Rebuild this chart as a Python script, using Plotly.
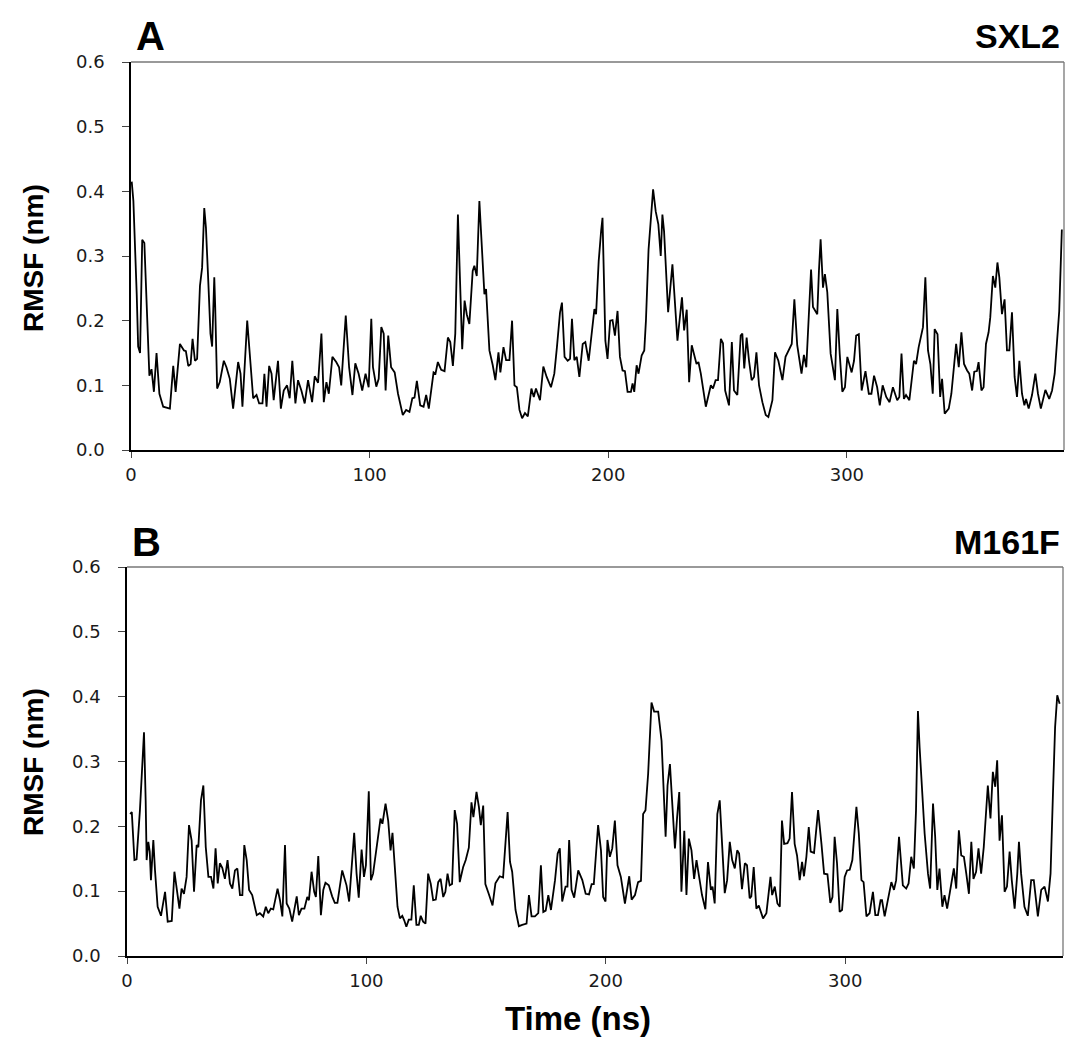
import plotly.graph_objects as go

# ---------------- data ----------------
time_a = [0.3, 1, 2.4, 3, 3.8, 4.7, 5.6, 6.5, 7.7, 8.6, 9.6, 10.7, 11.9, 13.5, 16.3, 17.7, 18.7, 20.5, 22.2, 23,
          24, 25, 25.8, 26.8, 27.7, 28.9, 29.8, 30.7, 31.4, 32.4, 33.3, 34, 34.9, 35.3, 36.1, 37.2, 38.9, 40, 41.4, 42.8,
          44.9, 45.9, 46.7, 48.7, 49.8, 51.2, 52.6, 53.7, 55.1, 55.9, 56.8, 57.9, 58.9, 59.8, 61.6, 62.8, 64, 65.4, 66.5, 67.6,
          68.9, 70, 71.4, 72.8, 74.2, 75.9, 77, 78.4, 79.8, 80.8, 81.9, 82.9, 84.4, 86, 87.2, 88.1, 90, 91.4, 92.8, 94,
          95.4, 96.9, 98.3, 99.6, 100.7, 101.4, 102.8, 103.8, 104.9, 105.9, 106.7, 107.8, 109, 110.5, 111.9, 113.9, 115.3, 116.7, 117.9, 118.8,
          119.8, 121.2, 122.6, 123.7, 124.8, 126.8, 127.6, 128.6, 130, 131.4, 132.8, 133.8, 134.9, 135.9, 137, 138, 138.8, 139.8, 140.7, 141.8,
          143.2, 143.9, 144.9, 146, 147.1, 148.1, 148.8, 150.2, 151.6, 152.7, 154, 154.8, 156.1, 157.2, 158.6, 159.7, 160.7, 161.7, 162.8, 163.9,
          165.1, 166.3, 167.8, 168.8, 169.7, 171.4, 172.8, 174.2, 176, 177.4, 178.5, 179.8, 180.6, 181.7, 183, 184, 184.8, 185.8, 186.8, 187.9,
          189.3, 190.4, 191.8, 193.5, 194.2, 194.9, 196, 197, 197.6, 198.8, 199.7, 200.8, 201.8, 202.8, 203.9, 204.9, 206, 207, 208.1, 209.5,
          210.2, 210.9, 211.9, 212.7, 214, 215.1, 215.8, 216.9, 217.9, 218.8, 219.9, 221, 222, 222.7, 223.4, 224.1, 225.1, 226.9, 228, 229,
          230.9, 231.8, 232.9, 233.9, 235, 237, 237.8, 238.8, 240.9, 243, 243.9, 245, 246, 247.2, 248.1, 249, 250.6, 251.8, 252.7, 254.1,
          255.5, 256.2, 257, 258, 259, 260.1, 261.1, 262.1, 263.2, 264.6, 266, 267.1, 268.8, 269.9, 271.3, 273, 274.3, 275.5, 276.9, 278,
          279.2, 281, 282, 283, 284.1, 285, 285.8, 287.6, 288.3, 289, 290, 290.8, 291.8, 293.2, 295, 296, 297, 298.1, 299.2, 300.2,
          302, 303, 303.9, 305, 306.2, 307.8, 309.2, 310.3, 311.4, 312.7, 313.8, 315, 316.5, 317.9, 319.3, 321.1, 322, 322.9, 323.9, 324.8,
          326.2, 328.1, 329, 330.1, 331.9, 332.9, 334, 335, 336, 336.8, 338, 339.1, 339.9, 341, 342.7, 343.8, 345.8, 346.9, 348, 349.1,
          350.4, 351.3, 352.5, 353.4, 354.5, 355.2, 356.4, 357.3, 358.3, 359.4, 360.1, 361.2, 362.2, 363.1, 363.9, 365, 366.1, 367.1, 368.1, 369.2,
          370.3, 371.3, 372.3, 373.4, 374.4, 375.1, 376.2, 377.6, 379, 380.1, 381.3, 383.2, 384.8, 386, 387.1, 388.3, 389, 390.1]
rmsf_a = [0.415, 0.385, 0.24, 0.16, 0.15, 0.325, 0.32, 0.235, 0.115, 0.125, 0.09, 0.15, 0.087, 0.067, 0.064, 0.13, 0.09, 0.164, 0.154, 0.153,
          0.13, 0.133, 0.172, 0.138, 0.141, 0.254, 0.282, 0.374, 0.344, 0.26, 0.18, 0.16, 0.267, 0.22, 0.095, 0.105, 0.138, 0.128, 0.11, 0.064,
          0.136, 0.118, 0.067, 0.2, 0.144, 0.08, 0.085, 0.072, 0.072, 0.118, 0.067, 0.13, 0.118, 0.077, 0.138, 0.064, 0.092, 0.1, 0.08, 0.138,
          0.072, 0.108, 0.092, 0.072, 0.108, 0.074, 0.114, 0.104, 0.18, 0.074, 0.105, 0.087, 0.144, 0.136, 0.128, 0.1, 0.208, 0.128, 0.085, 0.134,
          0.118, 0.092, 0.118, 0.097, 0.203, 0.128, 0.098, 0.11, 0.19, 0.18, 0.092, 0.177, 0.128, 0.12, 0.087, 0.054, 0.062, 0.059, 0.08, 0.081,
          0.107, 0.069, 0.067, 0.085, 0.064, 0.12, 0.118, 0.136, 0.124, 0.122, 0.174, 0.167, 0.13, 0.18, 0.364, 0.241, 0.156, 0.231, 0.21, 0.195,
          0.277, 0.285, 0.269, 0.385, 0.303, 0.241, 0.249, 0.154, 0.131, 0.108, 0.151, 0.12, 0.159, 0.139, 0.139, 0.2, 0.1, 0.097, 0.062, 0.049,
          0.057, 0.052, 0.095, 0.082, 0.095, 0.077, 0.129, 0.113, 0.097, 0.118, 0.159, 0.213, 0.228, 0.144, 0.138, 0.141, 0.203, 0.139, 0.144, 0.113,
          0.164, 0.167, 0.138, 0.19, 0.218, 0.21, 0.292, 0.338, 0.359, 0.169, 0.141, 0.2, 0.201, 0.177, 0.215, 0.144, 0.123, 0.122, 0.09, 0.09,
          0.103, 0.09, 0.131, 0.118, 0.146, 0.154, 0.2, 0.31, 0.362, 0.403, 0.369, 0.349, 0.3, 0.364, 0.338, 0.292, 0.213, 0.287, 0.231, 0.169,
          0.236, 0.185, 0.217, 0.105, 0.162, 0.133, 0.136, 0.118, 0.067, 0.1, 0.095, 0.108, 0.108, 0.172, 0.165, 0.092, 0.069, 0.167, 0.092, 0.085,
          0.177, 0.18, 0.126, 0.174, 0.138, 0.108, 0.113, 0.151, 0.1, 0.074, 0.054, 0.051, 0.077, 0.151, 0.138, 0.108, 0.144, 0.154, 0.164, 0.233,
          0.162, 0.118, 0.147, 0.128, 0.215, 0.279, 0.221, 0.21, 0.277, 0.326, 0.251, 0.272, 0.244, 0.149, 0.108, 0.218, 0.149, 0.09, 0.097, 0.144,
          0.12, 0.138, 0.177, 0.179, 0.092, 0.122, 0.087, 0.087, 0.115, 0.097, 0.069, 0.1, 0.082, 0.074, 0.097, 0.077, 0.082, 0.149, 0.079, 0.085,
          0.077, 0.138, 0.133, 0.159, 0.19, 0.267, 0.154, 0.133, 0.087, 0.187, 0.179, 0.082, 0.11, 0.056, 0.064, 0.087, 0.164, 0.128, 0.182, 0.133,
          0.123, 0.118, 0.092, 0.121, 0.122, 0.136, 0.092, 0.097, 0.164, 0.182, 0.205, 0.269, 0.251, 0.29, 0.267, 0.21, 0.233, 0.154, 0.154, 0.213,
          0.113, 0.082, 0.138, 0.087, 0.069, 0.079, 0.064, 0.085, 0.118, 0.087, 0.064, 0.093, 0.079, 0.092, 0.118, 0.187, 0.215, 0.341]

time_b = [1.3, 2, 3.1, 4, 5.4, 6.4, 7.1, 7.8, 8.2, 8.9, 9.5, 10, 11, 11.7, 12.8, 14.2, 15.9, 17, 18.7, 19.8,
          20.7, 21.9, 22.8, 23.8, 24.9, 25.9, 27, 28, 29.1, 29.8, 30.9, 31.9, 32.9, 34, 35.1, 36.1, 37, 37.9, 38.8, 39.8,
          40.9, 42, 43, 44, 45.1, 46.1, 47.2, 48.2, 49, 50, 51, 52.3, 54.2, 55.5, 56.9, 58, 59, 60.1, 61.1, 62.9,
          63.9, 64.9, 66, 66.7, 67.8, 69, 70.9, 71.8, 72.9, 74.1, 75.3, 76, 77.1, 78.2, 78.9, 79.9, 81, 82, 82.9, 84.3,
          85.7, 86.8, 87.9, 89.9, 91.7, 92.8, 94.9, 95.9, 96.8, 98, 99, 99.8, 101, 101.9, 102.8, 104.2, 105.9, 106.7, 108, 109.1,
          110.1, 110.9, 111.9, 113, 114, 115, 115.8, 116.7, 117.7, 118.8, 119.8, 120.9, 121.9, 122.7, 123.7, 124.7, 125.8, 126.9, 127.9, 129,
          130, 131, 132.1, 133, 133.9, 134.8, 135.8, 136.9, 137.9, 139, 140.4, 141.5, 142.8, 143.9, 144.7, 146, 147, 147.8, 148.8, 149.7,
          151.1, 152.7, 153.9, 155.7, 157.1, 159, 160, 160.9, 162.3, 163.7, 165.1, 166.9, 167.9, 169, 170.4, 171.8, 172.9, 173.9, 174.9, 176,
          177.1, 178.8, 179.9, 180.8, 181.8, 183.2, 184, 184.7, 185.7, 186.8, 188.5, 190.2, 191.6, 193, 194.1, 195, 196.8, 198, 198.9, 199.9,
          200.7, 201.7, 202.7, 203.8, 204.9, 206.3, 208, 209.8, 210.8, 212.2, 213.5, 214.7, 215.6, 216.6, 217.7, 218.4, 219.1, 220.2, 221.9, 223.3,
          224, 225, 225.8, 226.8, 227.7, 228.9, 229.8, 230.7, 231.6, 232.8, 233.7, 234.7, 235.8, 236.9, 237.9, 238.8, 240.2, 241.6, 242.7, 243.9,
          244.6, 245.5, 246.6, 247.6, 248.6, 249.7, 250.7, 251.8, 252.8, 253.9, 254.9, 255.7, 256.9, 258.1, 259, 260.1, 260.8, 261.8, 262.9, 263.9,
          265.7, 267.1, 268.8, 269.5, 270.6, 271.7, 272.7, 273.6, 274.5, 275.9, 276.8, 277.8, 278.9, 279.9, 281, 282, 282.8, 283.8, 284.8, 285.6,
          287, 288.7, 290.1, 291.2, 292.6, 293.8, 294.7, 295.6, 296.6, 297.7, 298.7, 299.8, 300.8, 301.9, 303, 304.7, 305.7, 306.8, 307.7, 308.9,
          310.2, 311.6, 312.6, 313.7, 314.8, 315.4, 316.5, 317.9, 319.3, 320.4, 321.3, 322.5, 323.2, 324.1, 325.5, 326.5, 327.6, 328.7, 329.6, 330.4,
          331.1, 332.1, 333.2, 334.6, 335.5, 336.7, 337.6, 338.5, 339.4, 340.6, 341.5, 342.6, 344, 345.4, 346.4, 347.5, 348.5, 349.6, 350.6, 351.7,
          352.7, 353.6, 354.7, 355.7, 356.8, 357.9, 359.6, 360.7, 361.7, 362.7, 363.5, 364.5, 365.5, 366.6, 367.6, 368.7, 369.6, 370.8, 371.9, 372.6,
          373.5, 374.9, 376.3, 377.7, 378.8, 380.5, 381.9, 383.3, 384.7, 385.8, 386.8, 387.7, 388.6, 389.6]
rmsf_b = [0.219, 0.222, 0.148, 0.149, 0.225, 0.302, 0.345, 0.24, 0.148, 0.176, 0.161, 0.117, 0.179, 0.132, 0.076, 0.062, 0.099, 0.053, 0.054, 0.13,
          0.107, 0.073, 0.104, 0.096, 0.122, 0.202, 0.178, 0.099, 0.171, 0.168, 0.24, 0.263, 0.168, 0.122, 0.122, 0.104, 0.166, 0.112, 0.143, 0.136,
          0.119, 0.148, 0.112, 0.104, 0.132, 0.135, 0.094, 0.094, 0.171, 0.148, 0.102, 0.094, 0.063, 0.066, 0.061, 0.076, 0.066, 0.073, 0.072, 0.104,
          0.086, 0.061, 0.171, 0.081, 0.073, 0.053, 0.092, 0.063, 0.073, 0.073, 0.091, 0.086, 0.13, 0.099, 0.091, 0.154, 0.063, 0.102, 0.113, 0.109,
          0.092, 0.082, 0.082, 0.132, 0.109, 0.084, 0.19, 0.127, 0.09, 0.164, 0.122, 0.14, 0.254, 0.117, 0.127, 0.163, 0.212, 0.204, 0.235, 0.209,
          0.163, 0.19, 0.127, 0.076, 0.058, 0.062, 0.055, 0.045, 0.056, 0.056, 0.109, 0.048, 0.048, 0.062, 0.053, 0.05, 0.127, 0.111, 0.086, 0.087,
          0.114, 0.119, 0.091, 0.099, 0.127, 0.109, 0.111, 0.225, 0.204, 0.114, 0.137, 0.148, 0.167, 0.237, 0.214, 0.253, 0.23, 0.202, 0.232, 0.111,
          0.096, 0.078, 0.112, 0.123, 0.121, 0.222, 0.145, 0.13, 0.071, 0.046, 0.048, 0.05, 0.094, 0.061, 0.061, 0.066, 0.14, 0.068, 0.07, 0.094,
          0.071, 0.117, 0.158, 0.166, 0.084, 0.107, 0.107, 0.179, 0.102, 0.09, 0.132, 0.117, 0.096, 0.095, 0.111, 0.111, 0.202, 0.163, 0.091, 0.084,
          0.179, 0.153, 0.166, 0.209, 0.14, 0.122, 0.081, 0.123, 0.087, 0.094, 0.114, 0.116, 0.219, 0.225, 0.281, 0.348, 0.391, 0.377, 0.377, 0.332,
          0.271, 0.184, 0.263, 0.296, 0.24, 0.166, 0.214, 0.253, 0.099, 0.193, 0.094, 0.181, 0.163, 0.119, 0.148, 0.127, 0.094, 0.072, 0.145, 0.102,
          0.107, 0.081, 0.219, 0.24, 0.168, 0.097, 0.117, 0.176, 0.148, 0.135, 0.163, 0.158, 0.103, 0.143, 0.14, 0.089, 0.092, 0.137, 0.073, 0.078,
          0.058, 0.066, 0.122, 0.094, 0.107, 0.081, 0.076, 0.209, 0.173, 0.174, 0.181, 0.253, 0.173, 0.155, 0.117, 0.145, 0.123, 0.153, 0.199, 0.161,
          0.159, 0.225, 0.173, 0.127, 0.126, 0.082, 0.091, 0.184, 0.143, 0.068, 0.071, 0.122, 0.132, 0.133, 0.148, 0.23, 0.189, 0.117, 0.114, 0.061,
          0.066, 0.099, 0.063, 0.063, 0.086, 0.086, 0.061, 0.086, 0.114, 0.102, 0.117, 0.184, 0.153, 0.109, 0.104, 0.112, 0.153, 0.135, 0.225, 0.378,
          0.322, 0.25, 0.189, 0.127, 0.104, 0.235, 0.184, 0.102, 0.135, 0.076, 0.094, 0.073, 0.107, 0.135, 0.104, 0.194, 0.155, 0.153, 0.127, 0.096,
          0.176, 0.119, 0.13, 0.166, 0.127, 0.168, 0.263, 0.212, 0.284, 0.261, 0.302, 0.178, 0.217, 0.099, 0.107, 0.161, 0.117, 0.073, 0.127, 0.176,
          0.127, 0.076, 0.062, 0.117, 0.117, 0.061, 0.102, 0.107, 0.084, 0.127, 0.25, 0.353, 0.402, 0.389]

x_ticks = [0, 100, 200, 300]
y_ticks = [0.0, 0.1, 0.2, 0.3, 0.4, 0.5, 0.6]
panel_letters = ["A", "B"]
panel_names = ["SXL2", "M161F"]
x_title = "Time (ns)"
y_title = "RMSF (nm)"

# ---------------- figure ----------------
W, H = 1066, 1041
ML, MR, MT, MB = 127, 2, 62, 85
PW, PH = W - ML - MR, H - MT - MB


def px(x):
    return (x - ML) / PW


def py(y):
    return (H - MB - y) / PH


fig = go.Figure()
fig.add_trace(go.Scatter(x=time_a, y=rmsf_a, mode="lines", line=dict(color="black", width=1.8),
                         xaxis="x", yaxis="y", showlegend=False))
fig.add_trace(go.Scatter(x=time_b, y=rmsf_b, mode="lines", line=dict(color="black", width=1.8),
                         xaxis="x2", yaxis="y2", showlegend=False))

tickfont = dict(family="DejaVu Sans, Arial, sans-serif", size=18, color="#1a1a1a")
ax_common = dict(range=[0, 391], tickvals=x_ticks, ticks="outside", ticklen=6, tickwidth=1,
                 tickcolor="#444", showline=True, linecolor="black", linewidth=1.5,
                 showgrid=False, zeroline=False, tickfont=tickfont, ticklabelstandoff=2)
ay_common = dict(range=[0, 0.6], tickvals=y_ticks, tickformat=".1f", ticks="outside", ticklen=7,
                 tickwidth=1, tickcolor="#444", showline=True, linecolor="black", linewidth=1.5,
                 showgrid=False, zeroline=False, tickfont=tickfont, ticklabelstandoff=14)

dom_a_x = [px(131), 1.0]
dom_b_x = [0.0, px(1063)]
dom_a_y = [py(450), py(62)]
dom_b_y = [py(956), py(567)]

fig.update_layout(
    width=W, height=H,
    margin=dict(l=ML, r=MR, t=MT, b=MB),
    paper_bgcolor="white", plot_bgcolor="white",
    xaxis=dict(domain=dom_a_x, anchor="y", **ax_common),
    yaxis=dict(domain=dom_a_y, anchor="x", **ay_common),
    xaxis2=dict(domain=dom_b_x, anchor="y2", **ax_common),
    yaxis2=dict(domain=dom_b_y, anchor="x2", **ay_common),
)

# box: top and right borders in grey
for xd, yd in [(dom_a_x, dom_a_y), (dom_b_x, dom_b_y)]:
    fig.add_shape(type="line", xref="paper", yref="paper", x0=xd[0], x1=xd[1], y0=yd[1], y1=yd[1],
                  line=dict(color="#777", width=1.3))
    fig.add_shape(type="line", xref="paper", yref="paper", x0=xd[1], x1=xd[1], y0=yd[0], y1=yd[1],
                  line=dict(color="#777", width=1.3))

bold = "Liberation Sans, Arial, sans-serif"
ann = []
ann.append(dict(text="<b>%s</b>" % panel_letters[0], x=px(150), y=py(36), font=dict(family=bold, size=40, color="black")))
ann.append(dict(text="<b>%s</b>" % panel_names[0], x=px(1062), y=py(36), xanchor="right",
                font=dict(family=bold, size=34, color="black")))
ann.append(dict(text="<b>%s</b>" % panel_letters[1], x=px(146), y=py(542), font=dict(family=bold, size=40, color="black")))
ann.append(dict(text="<b>%s</b>" % panel_names[1], x=px(1062), y=py(542), xanchor="right",
                font=dict(family=bold, size=34, color="black")))
ann.append(dict(text="<b>%s</b>" % y_title, x=px(33), y=py(258), textangle=-90,
                font=dict(family=bold, size=28, color="black")))
ann.append(dict(text="<b>%s</b>" % y_title, x=px(33), y=py(762), textangle=-90,
                font=dict(family=bold, size=28, color="black")))
ann.append(dict(text="<b>%s</b>" % x_title, x=px(578), y=py(1018),
                font=dict(family=bold, size=33, color="black")))
for a in ann:
    a.setdefault("xanchor", "center")
    a.update(xref="paper", yref="paper", yanchor="middle", showarrow=False)
fig.update_layout(annotations=ann)

fig.write_html("out.html")
